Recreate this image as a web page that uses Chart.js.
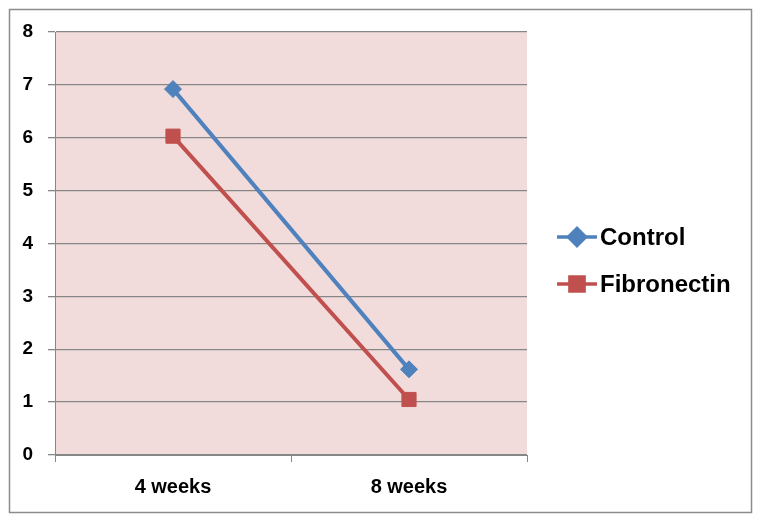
<!DOCTYPE html>
<html>
<head>
<meta charset="utf-8">
<script src="https://cdn.jsdelivr.net/npm/chart.js@4.4.0/dist/chart.umd.min.js"></script>
<style>
  html, body { margin: 0; padding: 0; background: #ffffff; }
  #wrap { position: relative; width: 761px; height: 522px; }
  canvas { display: block; }
</style>
</head>
<body>
<div id="wrap"><canvas id="c" width="761" height="522"></canvas></div>
<script>
const categories = ["4 weeks", "8 weeks"];
const controlValues = [6.92, 1.62];
const fibronectinValues = [6.03, 1.05];
const yTicks = [0, 1, 2, 3, 4, 5, 6, 7, 8];

const FONT = "'Liberation Sans', Arial, sans-serif";
const GRID = "#868686";
const BLUE = "#4F81BD";
const RED = "#C0504D";

const framePlugin = {
  id: 'frame',
  beforeDraw(chart) {
    const ctx = chart.ctx;
    const a = chart.chartArea;
    ctx.save();
    ctx.fillStyle = '#ffffff';
    ctx.fillRect(0, 0, chart.width, chart.height);
    ctx.fillStyle = '#F2DCDB';
    ctx.fillRect(a.left, a.top, a.right - a.left, a.bottom - a.top);
    ctx.strokeStyle = '#8c8c8c';
    ctx.lineWidth = 1.5;
    ctx.strokeRect(9.5, 9.5, 742, 503);
    ctx.restore();
  },
  afterDraw(chart) {
    const ctx = chart.ctx;
    const items = chart.data.datasets;
    ctx.save();
    const x0 = 557, x1 = 597, ys = [237, 284];
    items.forEach((ds, i) => {
      const y = ys[i];
      ctx.strokeStyle = ds.borderColor;
      ctx.lineWidth = 3.5;
      ctx.beginPath();
      ctx.moveTo(x0, y);
      ctx.lineTo(x1, y);
      ctx.stroke();
      ctx.fillStyle = ds.pointBackgroundColor;
      ctx.strokeStyle = ds.pointBorderColor;
      Chart.helpers.drawPoint(ctx, {
        pointStyle: ds.pointStyle,
        radius: ds.pointRadius,
        borderWidth: 1,
        rotation: 0
      }, (x0 + x1) / 2, y);
      ctx.fillStyle = '#000000';
      ctx.font = 'bold 24px ' + FONT;
      ctx.textAlign = 'left';
      ctx.textBaseline = 'middle';
      ctx.fillText(ds.label, 600, y + 1);
    });
    ctx.restore();
  }
};

new Chart(document.getElementById('c'), {
  type: 'line',
  data: {
    labels: categories,
    datasets: [
      {
        label: 'Control',
        data: controlValues,
        borderColor: BLUE,
        backgroundColor: BLUE,
        pointBackgroundColor: BLUE,
        pointBorderColor: BLUE,
        borderWidth: 4,
        pointStyle: 'rectRot',
        pointRadius: 8.5,
        pointBorderWidth: 1,
        pointHoverRadius: 8.5,
        tension: 0
      },
      {
        label: 'Fibronectin',
        data: fibronectinValues,
        borderColor: RED,
        backgroundColor: RED,
        pointBackgroundColor: RED,
        pointBorderColor: RED,
        borderWidth: 4,
        pointStyle: 'rect',
        pointRadius: 10,
        pointBorderWidth: 1,
        pointHoverRadius: 10,
        tension: 0
      }
    ]
  },
  options: {
    responsive: false,
    animation: false,
    devicePixelRatio: 1,
    layout: { padding: { left: 0, top: 32, right: 234, bottom: 0 } },
    plugins: {
      legend: { display: false },
      tooltip: { enabled: false }
    },
    scales: {
      x: {
        type: 'category',
        offset: true,
        grid: {
          offset: true,
          display: true,
          drawOnChartArea: false,
          drawTicks: true,
          tickLength: 7,
          color: GRID,
          lineWidth: 1
        },
        border: { display: true, color: GRID, width: 1 },
        ticks: {
          color: '#000000',
          font: { family: FONT, size: 20, weight: 'bold' },
          padding: 13,
          maxRotation: 0
        },
        afterFit(scale) { scale.height = 67; }
      },
      y: {
        min: 0,
        max: 8,
        afterBuildTicks(scale) { scale.ticks = yTicks.map(v => ({ value: v })); },
        grid: {
          display: true,
          drawOnChartArea: true,
          drawTicks: true,
          tickLength: 7,
          color: GRID,
          lineWidth: 1.3
        },
        border: { display: true, color: GRID, width: 1 },
        ticks: {
          color: '#000000',
          font: { family: FONT, size: 19, weight: 'bold' },
          padding: 15
        },
        afterFit(scale) { scale.width = 55; }
      }
    }
  },
  plugins: [framePlugin]
});
</script>
</body>
</html>
